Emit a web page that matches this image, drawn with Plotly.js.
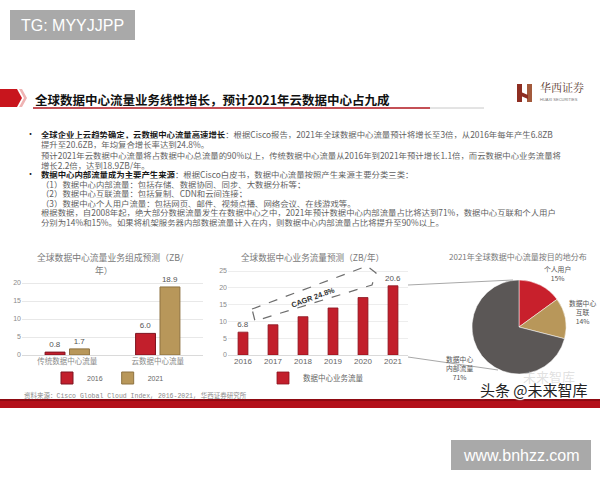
<!DOCTYPE html>
<html><head><meta charset="utf-8">
<script src="https://cdn.plot.ly/plotly-3.0.1.min.js"></script>
<style>html,body{margin:0;padding:0;background:#fff}#chart{width:600px;height:480px}</style>
</head><body><div id="chart"></div>
<script>
// ---- data ----
const mixCategories = ['传统数据中心流量', '云数据中心流量'];
const mix2016 = [0.8, 6.0];
const mix2021 = [1.7, 18.9];
const years = ['2016', '2017', '2018', '2019', '2020', '2021'];
const trafficValues = [6.8, 9.0, 11.4, 14.0, 17.1, 20.6];
const destLabels = ['个人用户', '数据中心<br>互联', '数据中心<br>内部流量'];
const destShares = [15, 14, 71];

// ---- helpers ----
const W = 600, H = 480;
const X = px => px / W;
const Y = py => 1 - py / H;
const CJK = 'Noto Sans CJK SC, Noto Sans, sans-serif';
const path = pts => pts.map((p, i) => (i ? 'L' : 'M') + X(p[0]).toFixed(4) + ',' + Y(p[1]).toFixed(4)).join(' ') + ' Z';
const ann = [];
function A(px, py, text, size, color, o) {
  o = o || {};
  ann.push(Object.assign({
    xref: 'paper', yref: 'paper', x: X(px), y: Y(py), text: text, showarrow: false,
    xanchor: 'left', yanchor: 'middle',
    font: {family: o.family || CJK, size: size, color: color}
  }, o.extra || {}));
}
const shapes = [];
function rect(x0, y0, x1, y1, fill, line) {
  shapes.push({type: 'rect', xref: 'paper', yref: 'paper', x0: X(x0), x1: X(x1), y0: Y(y1), y1: Y(y0),
    fillcolor: fill, line: line || {width: 0}, layer: 'below'});
}
function seg(x0, y0, x1, y1, color, width, dash) {
  shapes.push({type: 'line', xref: 'paper', yref: 'paper', x0: X(x0), x1: X(x1), y0: Y(y0), y1: Y(y1),
    line: {color: color, width: width, dash: dash || 'solid'}});
}

// ---- decorations ----
rect(10, 10, 135, 40, '#A9A9A9');
A(72, 25.5, 'TG: MYYJJPP', 16, '#FFFFFF', {family: 'Liberation Sans, Arial, sans-serif', extra: {xanchor: 'center'}});
rect(451, 440, 591, 470, '#A9A9A9');
A(521, 455.5, 'www.bnhzz.com', 16, '#FFFFFF', {family: 'Liberation Sans, Arial, sans-serif', extra: {xanchor: 'center'}});

// header chevron
shapes.push({type: 'path', xref: 'paper', yref: 'paper', path: path([[0, 89], [17, 89], [22, 98], [17, 107], [0, 107]]), fillcolor: '#C8151D', line: {width: 0}});
shapes.push({type: 'path', xref: 'paper', yref: 'paper', path: path([[19, 89], [22, 89], [27, 98], [22, 107], [19, 107], [24, 98]]), fillcolor: '#EFB3B3', line: {width: 0}});
A(33, 99, '<b>全球数据中心流量业务线性增长，预计2021年云数据中心占九成</b>', 12.5, '#111');
seg(33, 108, 430, 108, '#B0161E', 1.3);
seg(430, 108, 484, 108, '#C8C8C8', 1);

// logo
rect(517, 84, 522, 102, '#8E2E22');
rect(527, 84, 532, 102, '#A35A3C');
shapes.push({type: 'path', xref: 'paper', yref: 'paper', path: path([[521, 92], [528, 95], [528, 99], [521, 96]]), fillcolor: '#8E2E22', line: {width: 0}});
A(538, 87.5, '华西证券', 11, '#5A3A30', {family: 'Noto Serif CJK SC, Noto Sans CJK SC, serif'});
A(538, 99.5, 'HUAXI SECURITIES', 4, '#777', {family: 'Liberation Sans, Arial'});

// body text (tight boxes so that lines set 9-10 px apart do not collide)
const grey = '#5E5E5E', dark = '#1A1A1A', fs = 8.4;
const tight = {height: 9.5, valign: 'middle', borderpad: 0};
function B(px, py, text, color) { A(px, py, text, fs, color, {extra: tight}); }
A(25, 134, '•', 9, dark, {extra: tight});
B(40, 134, '<b>全球企业上云趋势确定，云数据中心流量高速增长</b><span style="color:' + grey + '">：根据Cisco报告，2021年全球数据中心流量预计将增长至3倍，从2016年每年产生6.8ZB</span>', dark);
B(40, 144, '提升至20.6ZB，年均复合增长率达到24.8%。', grey);
B(40, 155, '预计2021年云数据中心流量将占数据中心总流量的90%以上，传统数据中心流量从2016年到2021年预计增长1.1倍，而云数据中心业务流量将', grey);
B(40, 164.5, '增长2.2倍，达到18.9ZB/年。', grey);
A(25, 174, '•', 9, dark, {extra: tight});
B(40, 174, '<b>数据中心内部流量成为主要产生来源</b><span style="color:' + grey + '">：根据Cisco白皮书，数据中心流量按照产生来源主要分类三类：</span>', dark);
B(40, 184, '（1）数据中心内部流量：包括存储、数据协同、同步、大数据分析等；', grey);
B(40, 193.5, '（2）数据中心互联流量：包括复制、CDN和云间连接；', grey);
B(40, 203, '（3）数据中心个人用户流量：包括网页、邮件、视频点播、网络会议、在线游戏等。', grey);
B(40, 212.5, '根据数据，自2008年起，绝大部分数据流量发生在数据中心之中，2021年预计数据中心内部流量占比将达到71%，数据中心互联和个人用户', grey);
B(40, 222, '分别为14%和15%。如果将机架服务器内部数据流量计入在内，则数据中心内部流量占比将提升至90%以上。', grey);

// chart titles
const tgrey = '#7A7A7A';
A(35, 257, '全球数据中心流量业务组成预测（ZB/', 8.8, tgrey);
A(104, 270, '年）', 8.8, tgrey, {extra: {xanchor: 'center'}});
A(312, 257, '全球数据中心业务流量预测（ZB/年）', 8.6, tgrey, {extra: {xanchor: 'center'}});
A(518, 256, '2021年全球数据中心流量按目的地分布', 8, tgrey, {extra: {xanchor: 'center'}});

// CAGR arrow
shapes.push({type: 'path', xref: 'paper', yref: 'paper',
  path: path([[252, 309], [367, 266], [376, 273], [372, 285], [255, 321]]),
  line: {color: '#6E6E6E', width: 1.2, dash: 'dash'}, fillcolor: 'rgba(0,0,0,0)'});
A(313, 297, '<b>CAGR 24.8%</b>', 7.5, '#333', {family: 'Liberation Sans, Arial', extra: {xanchor: 'center', textangle: -20}});

// connectors
seg(408, 285, 513, 280, '#A8A8A8', 1);
seg(408, 357, 498, 370, '#A8A8A8', 1);

// pie labels
const pieLabelPos = [[557, 273], [582, 312], [459, 368]];
destLabels.forEach((l, i) => A(pieLabelPos[i][0], pieLabelPos[i][1], l + '<br>' + destShares[i] + '%', 6.8, '#555', {extra: {xanchor: 'center'}}));

// source + bottom band
A(22, 395, '资料来源：Cisco Global Cloud Index, 2016-2021, 华西证券研究所', 6.5, '#8A8A8A', {family: 'Liberation Mono, Noto Sans CJK SC, monospace'});
rect(0, 399, 600, 408, '#B3101A');
rect(0, 399, 600, 401, '#8E0A12');

// watermark
A(577, 376, '未来智库', 13, 'rgba(175,175,175,0.4)', {extra: {xanchor: 'right'}});
ann.push({xref: 'paper', yref: 'paper', x: X(590), y: Y(389), xanchor: 'right', yanchor: 'middle', showarrow: false,
  text: '头条 @未来智库', font: {family: CJK, size: 15, color: '#222', shadow: '1px 1px 1px #fff, -1px -1px 1px #fff, 1px -1px 1px #fff, -1px 1px 1px #fff'}});

// ---- traces ----
const red = '#C21F2C', tan = '#B8975A';
const labelFont = {size: 8, color: '#555', family: 'Liberation Sans, Arial'};
const traces = [
  {type: 'bar', x: mixCategories, y: mix2016, name: '2016', xaxis: 'x', yaxis: 'y', legend: 'legend',
    width: 0.22, offset: -0.245, marker: {color: red, line: {color: '#7E1420', width: 1}},
    text: mix2016.map(v => v.toFixed(1)), textposition: 'outside', cliponaxis: false, constraintext: 'none',
    textfont: labelFont, hoverinfo: 'skip'},
  {type: 'bar', x: mixCategories, y: mix2021, name: '2021', xaxis: 'x', yaxis: 'y', legend: 'legend',
    width: 0.22, offset: 0.025, marker: {color: tan, line: {color: '#8E7240', width: 1}},
    text: mix2021.map(v => v.toFixed(1)), textposition: 'outside', cliponaxis: false, constraintext: 'none',
    textfont: labelFont, hoverinfo: 'skip'},
  {type: 'bar', x: years, y: trafficValues, name: '数据中心业务流量', xaxis: 'x2', yaxis: 'y2', legend: 'legend2',
    width: 0.33, marker: {color: red, line: {color: '#8A1520', width: 0.8}},
    text: trafficValues.map((v, i) => (i === 0 || i === trafficValues.length - 1) ? v.toFixed(1) : ''),
    textposition: 'outside', cliponaxis: false, constraintext: 'none',
    textfont: labelFont, hoverinfo: 'skip'},
  {type: 'pie', labels: destLabels, values: destShares, sort: false, direction: 'clockwise', rotation: 0,
    domain: {x: [X(472), X(566)], y: [Y(374), Y(280)]}, textinfo: 'none', showlegend: false,
    marker: {colors: ['#C8202C', '#B8975A', '#5B5756'], line: {color: '#FFFFFF', width: 0.5}}, hoverinfo: 'skip'}
];

const axisFont = {size: 7, color: '#8A8A8A', family: 'Liberation Sans, Arial'};
const layout = {
  width: W, height: H, margin: {l: 0, r: 0, t: 0, b: 0},
  paper_bgcolor: '#FFFFFF', plot_bgcolor: 'rgba(0,0,0,0)',
  barmode: 'group', showlegend: true,
  xaxis: {domain: [X(22), X(203)], anchor: 'y', type: 'category', showgrid: false, showline: false, ticks: '',
    tickfont: {size: 7.5, color: '#8A8A8A', family: CJK}, fixedrange: true},
  yaxis: {domain: [Y(355), Y(355 - 21 * 3.6)], anchor: 'x', range: [0, 21], dtick: 5, gridcolor: '#E8E8E8',
    zeroline: true, zerolinecolor: '#DADADA', tickfont: axisFont, ticks: '', fixedrange: true},
  xaxis2: {domain: [X(228), X(408)], anchor: 'y2', type: 'category', showgrid: false, showline: false, ticks: '',
    tickfont: {size: 8, color: '#666', family: 'Liberation Sans, Arial'}, fixedrange: true},
  yaxis2: {domain: [Y(355), Y(355 - 25.5 * 3.36)], anchor: 'x2', range: [0, 25.5], dtick: 5, gridcolor: '#EDEDED',
    zeroline: true, zerolinecolor: '#DADADA', tickfont: axisFont, ticks: '', fixedrange: true},
  legend: {orientation: 'h', x: X(108), xanchor: 'center', y: Y(378), yanchor: 'middle',
    font: {size: 7, color: '#666', family: 'Liberation Sans, Arial'}, itemwidth: 30, tracegroupgap: 0,
    bgcolor: 'rgba(0,0,0,0)'},
  legend2: {orientation: 'h', x: X(316), xanchor: 'center', y: Y(378), yanchor: 'middle',
    font: {size: 7.5, color: '#666', family: CJK}, itemwidth: 30, bgcolor: 'rgba(0,0,0,0)'},
  shapes: shapes, annotations: ann
};
Plotly.newPlot('chart', traces, layout, {displayModeBar: false, staticPlot: true});
</script></body></html>
